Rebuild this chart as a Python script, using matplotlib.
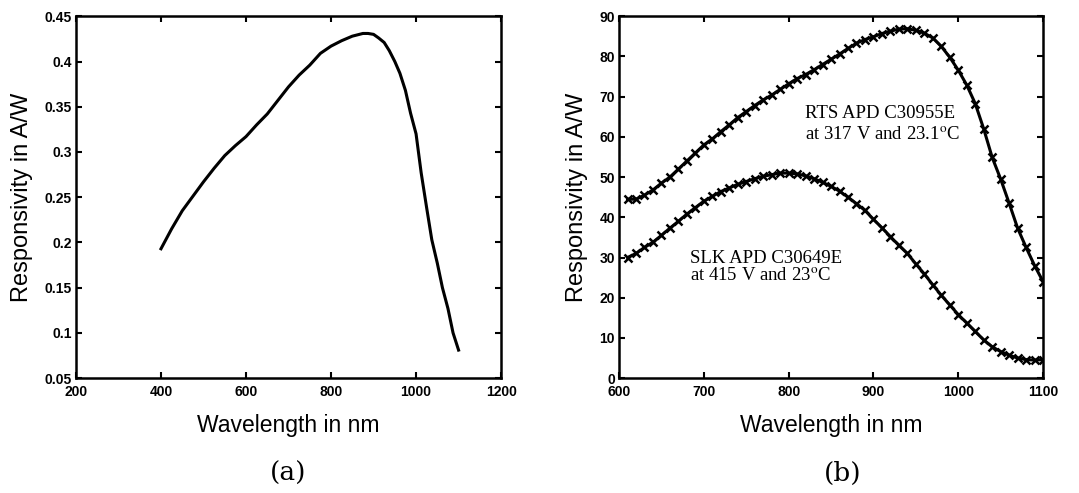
import matplotlib
matplotlib.use("Agg")
from matplotlib import pyplot as plt
import numpy as np

plt.rcParams['font.family'] = 'Liberation Sans'
plt.rcParams['mathtext.fontset'] = 'stix'

# panel (a): photodiode responsivity
wl_a = [400, 425, 450, 475, 500, 525, 550, 575, 600, 625, 650, 675, 700, 725, 750, 775,
        800, 825, 850, 875, 887, 900, 912, 925, 937, 950, 962, 975, 987, 1000, 1012,
        1025, 1037, 1050, 1062, 1075, 1087, 1100]
resp_a = [0.193, 0.215, 0.235, 0.251, 0.267, 0.282, 0.296, 0.307, 0.317, 0.330, 0.342, 0.357,
          0.372, 0.385, 0.396, 0.409, 0.417, 0.423, 0.428, 0.431, 0.431, 0.430, 0.426, 0.421,
          0.412, 0.400, 0.387, 0.368, 0.343, 0.320, 0.277, 0.238, 0.203, 0.177, 0.150,
          0.127, 0.100, 0.081]

# panel (b): APD responsivity, 610..1100 nm every 10 nm
wl_b = list(range(610, 1101, 10))
rts = [44.5, 44.5, 45.5, 46.8, 48.5, 50.0, 52.0, 54.0, 56.0, 58.0,
       59.5, 61.3, 63.0, 64.8, 66.3, 67.8, 69.2, 70.4, 71.8, 73.2,
       74.5, 75.5, 76.7, 78.0, 79.3, 80.6, 82.0, 83.3, 84.2, 84.9,
       85.7, 86.3, 86.8, 86.9, 86.5, 85.8, 84.6, 82.5, 79.8, 76.6,
       72.9, 68.3, 62.0, 54.9, 49.5, 43.5, 37.3, 32.5, 28.0, 24.0]
slk = [30.0, 31.0, 32.5, 33.8, 35.5, 37.3, 39.0, 40.8, 42.4, 44.0,
       45.2, 46.4, 47.3, 48.2, 48.9, 49.6, 50.2, 50.6, 51.0, 51.0,
       50.8, 50.3, 49.6, 48.7, 47.7, 46.5, 45.0, 43.4, 41.7, 39.5,
       37.4, 35.2, 33.0, 31.0, 28.4, 25.9, 23.2, 20.6, 18.2, 15.8,
       13.7, 11.6, 9.5, 7.8, 6.6, 5.7, 5.0, 4.6, 4.5, 4.6]

xt_a = [200, 400, 600, 800, 1000, 1200]
yt_a = [0.05, 0.1, 0.15, 0.2, 0.25, 0.3, 0.35, 0.4, 0.45]
yt_a_labels = ['0.05', '0.1', '0.15', '0.2', '0.25', '0.3', '0.35', '0.4', '0.45']
xt_b = [600, 700, 800, 900, 1000, 1100]
yt_b = [0, 10, 20, 30, 40, 50, 60, 70, 80, 90]

fig = plt.figure(figsize=(10.79, 4.93), dpi=100)
ax1 = fig.add_axes([0.0704, 0.233, 0.394, 0.734])
ax2 = fig.add_axes([0.5737, 0.233, 0.393, 0.734])


def style(ax):
    for s in ax.spines.values():
        s.set_linewidth(1.8)
    ax.tick_params(direction='in', top=True, right=True, length=4, width=1.5,
                   labelsize=10)
    ax.tick_params(axis='x', pad=5)
    ax.tick_params(axis='y', pad=3)
    for lab in ax.get_xticklabels() + ax.get_yticklabels():
        lab.set_fontweight('bold')
    ax.set_xlabel('Wavelength in nm', fontsize=16.5)
    ax.set_ylabel('Responsivity in A/W', fontsize=17)
    ax.xaxis.set_label_coords(0.5, -0.10)


ax1.plot(wl_a, resp_a, color='black', lw=2.2)
ax1.set_xlim(200, 1200)
ax1.set_ylim(0.05, 0.45)
ax1.set_xticks(xt_a)
ax1.set_yticks(yt_a)
ax1.set_yticklabels(yt_a_labels)
style(ax1)
ax1.yaxis.set_label_coords(-0.101, 0.5)

ax2.plot(wl_b, rts, color='black', lw=2.2, marker='x', ms=5.5, mew=1.8)
ax2.plot(wl_b, slk, color='black', lw=2.2, marker='x', ms=5.5, mew=1.8)
ax2.set_xlim(600, 1100)
ax2.set_ylim(0, 90)
ax2.set_xticks(xt_b)
ax2.set_yticks(yt_b)
style(ax2)
ax2.yaxis.set_label_coords(-0.073, 0.5)

serif = 'Liberation Serif'
fs = 13.5
ax2.text(819, 64.7, 'RTS APD C30955E', family=serif, fontsize=fs, va='baseline')
ax2.text(819, 59.3, r'at 317 V and 23.1$^{\mathrm{o}}$C', family=serif, fontsize=fs, va='baseline')
ax2.text(684, 28.6, 'SLK APD C30649E', family=serif, fontsize=fs, va='baseline')
ax2.text(684, 24.1, r'at 415 V and 23$^{\mathrm{o}}$C', family=serif, fontsize=fs, va='baseline')

fig.text(0.267, 1 - 473 / 493, '(a)', family='DejaVu Serif', fontsize=19, ha='center', va='center')
fig.text(0.781, 1 - 473 / 493, '(b)', family='DejaVu Serif', fontsize=19, ha='center', va='center')

fig.savefig('out.png', dpi=100)
